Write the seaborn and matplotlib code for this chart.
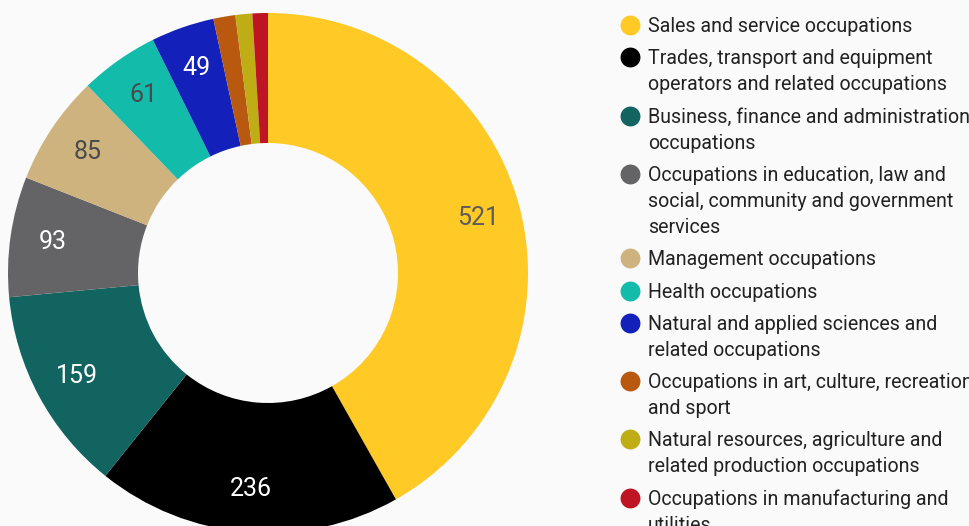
import matplotlib
matplotlib.use('Agg')
import matplotlib.pyplot as plt
import seaborn as sns

# data
categories = [
    'Sales and service occupations',
    'Trades, transport and equipment\noperators and related occupations',
    'Business, finance and administration\noccupations',
    'Occupations in education, law and\nsocial, community and government\nservices',
    'Management occupations',
    'Health occupations',
    'Natural and applied sciences and\nrelated occupations',
    'Occupations in art, culture, recreation\nand sport',
    'Natural resources, agriculture and\nrelated production occupations',
    'Occupations in manufacturing and\nutilities',
]
counts = [521, 236, 159, 93, 85, 61, 49, 17, 13, 12]
colors = ['#FFC926', '#000000', '#126461', '#646466', '#CEB37F',
          '#12BBAA', '#1321BA', '#B95910', '#BEAD15', '#BE1423']
label_colors = ['#5c5c5c', 'white', 'white', 'white', '#4a4a4a',
                '#4a4a4a', 'white', 'white', 'white', 'white']

sns.set_theme(style='white')
plt.rcParams['font.family'] = ['Roboto', 'DejaVu Sans']

W, H = 969, 526
fig = plt.figure(figsize=(W / 100, H / 100), dpi=100, facecolor='#fafafa')

# ── donut ─────────────────────────────────────
cx, cy, R = 268, 273, 260
ax = fig.add_axes([(cx - R) / W, (H - cy - R) / H, 2 * R / W, 2 * R / H])
ax.set_facecolor('none')

total = sum(counts)
def fmt(p):
    v = round(p * total / 100)
    return f'{v}' if v >= 40 else ''

wedges, _, autotexts = ax.pie(
    counts,
    colors=sns.color_palette(colors),
    startangle=90,
    counterclock=False,
    radius=1,
    autopct=fmt,
    pctdistance=0.835,
    wedgeprops=dict(width=0.5, linewidth=0),
    textprops=dict(fontsize=18),
)
for t, c in zip(autotexts, label_colors):
    t.set_color(c)
ax.set_xlim(-1, 1)
ax.set_ylim(-1, 1)
ax.set_aspect('equal')
ax.axis('off')

# ── legend ────────────────────────────────────
lax = fig.add_axes([0, 0, 1, 1])
lax.set_xlim(0, W)
lax.set_ylim(H, 0)
lax.axis('off')
lax.set_facecolor('none')

y = 25
line_h = 26
gap = 6.3
for lab, c in zip(categories, colors):
    lax.scatter([630], [y], s=205, color=c, linewidths=0, zorder=3)
    lines = lab.split('\n')
    for i, ln in enumerate(lines):
        lax.text(648, y + 1.5 + i * line_h, ln, fontsize=14.1, color='#222222',
                 va='center', ha='left')
    y += len(lines) * line_h + gap

fig.savefig('out.png', dpi=100, facecolor=fig.get_facecolor())
